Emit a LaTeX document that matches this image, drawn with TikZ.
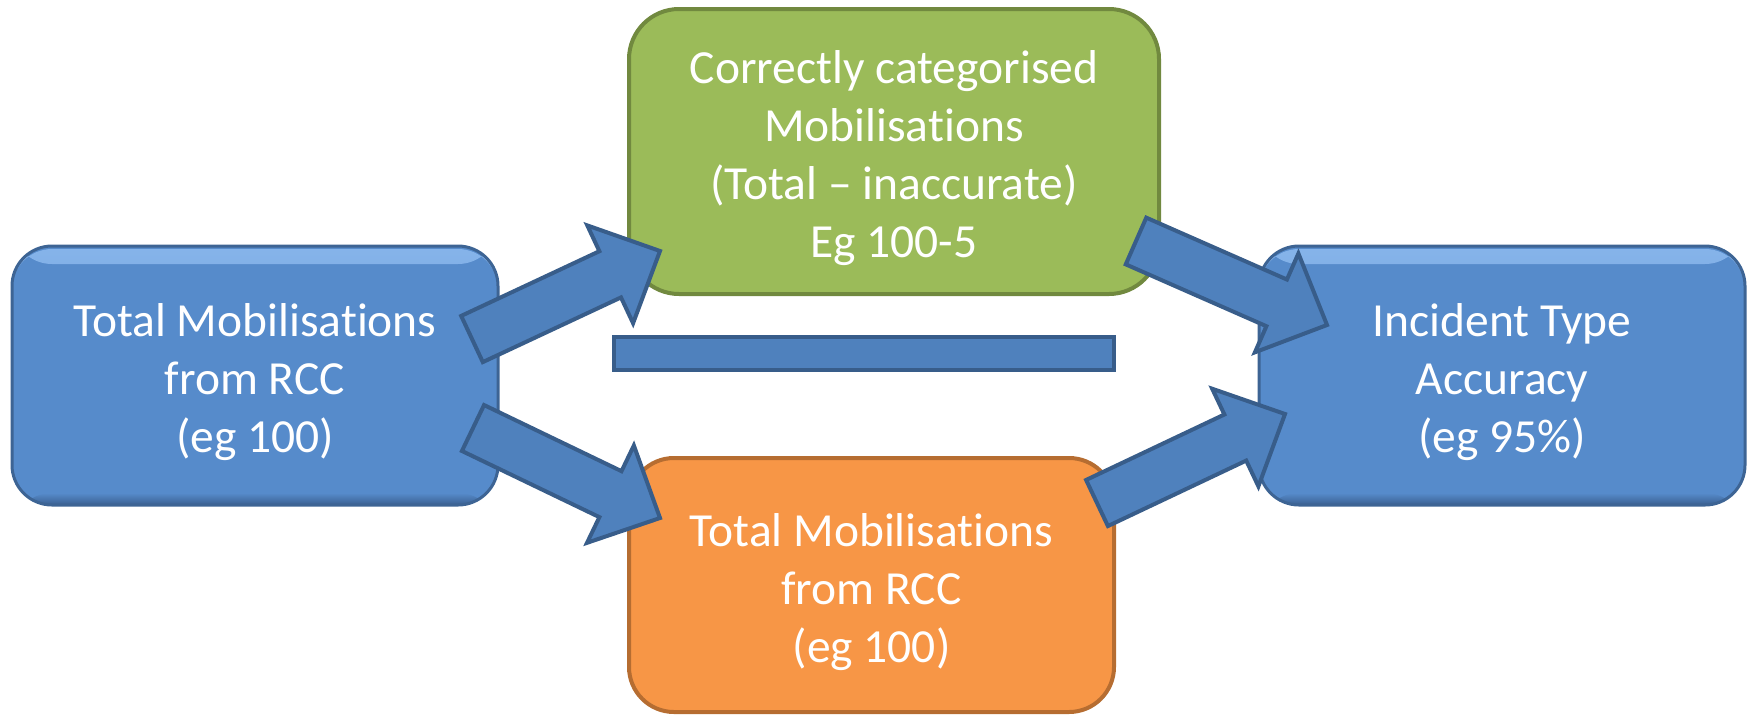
\documentclass[tikz,border=0pt]{standalone}
\usepackage{fontspec}
\setmainfont[Ligatures={NoCommon,NoContextual,NoRare}]{Carlito}
\usetikzlibrary{calc}
\definecolor{boxblue}{HTML}{568BCB}
\definecolor{boxedge}{HTML}{3D6494}
\definecolor{boxhi}{HTML}{86B4EA}
\definecolor{boxlo}{HTML}{3A5F90}
\definecolor{arrfill}{HTML}{4F81BD}
\definecolor{arredge}{HTML}{385D8A}
\definecolor{grfill}{HTML}{9BBB59}
\definecolor{gredge}{HTML}{71893F}
\definecolor{orfill}{HTML}{F79646}
\definecolor{oredge}{HTML}{B66D31}
\newcommand\topstrut{\rule{0pt}{47pt}}
\tikzset{
  boxtext/.style={text=white, align=center, font=\fontsize{47.5pt}{58pt}\selectfont},
  bluebox/.style={boxtext, fill=boxblue, draw=boxedge, line width=3pt, rounded corners=40pt,
    minimum width=486pt, minimum height=259pt,
    path picture={
      \fill[top color=boxhi, bottom color=boxblue]
        ([shift={(0,3)}]path picture bounding box.north west) rectangle ([shift={(0,18)}]path picture bounding box.north east);
      \fill[top color=boxblue, bottom color=boxlo]
        ([shift={(0,-12)}]path picture bounding box.south west) rectangle (path picture bounding box.south east);
    }},
  greenbox/.style={boxtext, fill=grfill, draw=gredge, line width=4pt, rounded corners=50pt,
    minimum width=530pt, minimum height=285pt},
  orangebox/.style={boxtext, fill=orfill, draw=oredge, line width=4pt, rounded corners=45pt,
    minimum width=485pt, minimum height=254pt},
  barbox/.style={fill=arrfill, draw=arredge, line width=4pt, minimum width=500pt, minimum height=33pt},
  blockarr/.style={fill=arrfill, draw=arredge, line width=4pt, line join=miter}
}
\newcommand\blockarrow[2]{%
  \coordinate (#1-h) at ($(#2)!55pt!(#1)$);
  \draw[blockarr] ($(#1)!25.5pt!90:(#2)$) -- ($(#1-h)!25.5pt!90:(#2)$) -- ($(#1-h)!54pt!90:(#2)$)
    -- (#2) -- ($(#1-h)!54pt!-90:(#2)$) -- ($(#1-h)!25.5pt!-90:(#2)$) -- ($(#1)!25.5pt!-90:(#2)$) -- cycle;
}
\begin{document}
\begin{tikzpicture}[x=1pt, y=-1pt]
\useasboundingbox (0,0) rectangle (1752,716);
\node[bluebox] (total) at (255,375.5) {\topstrut Total Mobilisations\\from RCC\\(eg 100)};
\node[bluebox] (acc) at (1502,375.5) {\topstrut Incident Type\\Accuracy\\(eg 95\%)};
\node[greenbox] (correct) at (894,151.5) {\topstrut Correctly categorised\\Mobilisations\\(Total – inaccurate)\\Eg 100-5};
\node[orangebox] (totalb) at (871.5,585) {\topstrut Total Mobilisations\\from RCC\\(eg 100)};
\node[barbox] (divide) at (864,353.5) {};
\coordinate (a1s) at (472,339);
\coordinate (a1e) at (660,251);
\coordinate (a2s) at (473,428);
\coordinate (a2e) at (660,518);
\coordinate (a3s) at (1136,241);
\coordinate (a3e) at (1327,325);
\coordinate (a4s) at (1097,503);
\coordinate (a4e) at (1285,414);
\blockarrow{a1s}{a1e}
\blockarrow{a2s}{a2e}
\blockarrow{a3s}{a3e}
\blockarrow{a4s}{a4e}
\end{tikzpicture}
\end{document}
